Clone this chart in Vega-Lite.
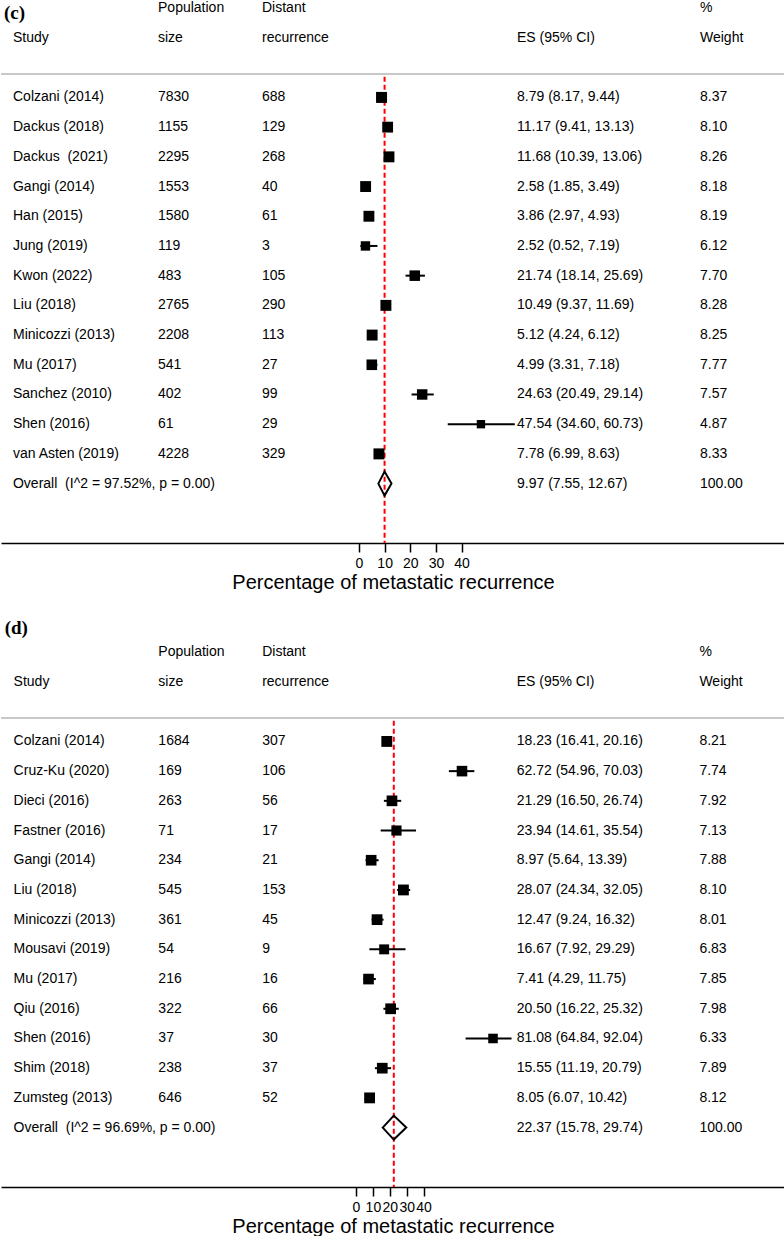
{
  "$schema": "https://vega.github.io/schema/vega-lite/v6.json",
  "background": "white",
  "padding": 0,
  "autosize": {"type": "pad"},
  "spacing": 101,
  "bounds": "flush",
  "config": {
    "view": {"stroke": null},
    "font": "Liberation Sans",
    "axis": {
      "grid": false, "labelOverlap": false, "labelFlush": false, "labelBound": false,
      "tickSize": 9, "tickWidth": 1.5, "tickColor": "#000", "domainColor": "#000", "domainWidth": 1.5,
      "labelFont": "Liberation Sans", "labelFontSize": 14, "labelColor": "#000", "labelPadding": 4,
      "titleFont": "Liberation Sans", "titleFontSize": 20, "titleFontWeight": "normal", "titleColor": "#000", "titlePadding": 2
    }
  },
  "datasets": {
    "header": [
      {"study": "h1", "col": "n", "text": "Population"},
      {"study": "h1", "col": "events", "text": "Distant"},
      {"study": "h1", "col": "weight", "text": "%"},
      {"study": "h2", "col": "study", "text": "Study"},
      {"study": "h2", "col": "n", "text": "size"},
      {"study": "h2", "col": "events", "text": "recurrence"},
      {"study": "h2", "col": "ci", "text": "ES (95% CI)"},
      {"study": "h2", "col": "weight", "text": "Weight"}
    ],
    "c": [
      {"study": "Colzani (2014)", "n": 7830, "events": 688, "es": 8.79, "lo": 8.17, "hi": 9.44, "weight": 8.37, "ci": "8.79 (8.17, 9.44)", "type": "study"},
      {"study": "Dackus (2018)", "n": 1155, "events": 129, "es": 11.17, "lo": 9.41, "hi": 13.13, "weight": 8.10, "ci": "11.17 (9.41, 13.13)", "type": "study"},
      {"study": "Dackus\u00a0 (2021)", "n": 2295, "events": 268, "es": 11.68, "lo": 10.39, "hi": 13.06, "weight": 8.26, "ci": "11.68 (10.39, 13.06)", "type": "study"},
      {"study": "Gangi (2014)", "n": 1553, "events": 40, "es": 2.58, "lo": 1.85, "hi": 3.49, "weight": 8.18, "ci": "2.58 (1.85, 3.49)", "type": "study"},
      {"study": "Han (2015)", "n": 1580, "events": 61, "es": 3.86, "lo": 2.97, "hi": 4.93, "weight": 8.19, "ci": "3.86 (2.97, 4.93)", "type": "study"},
      {"study": "Jung (2019)", "n": 119, "events": 3, "es": 2.52, "lo": 0.52, "hi": 7.19, "weight": 6.12, "ci": "2.52 (0.52, 7.19)", "type": "study"},
      {"study": "Kwon (2022)", "n": 483, "events": 105, "es": 21.74, "lo": 18.14, "hi": 25.69, "weight": 7.70, "ci": "21.74 (18.14, 25.69)", "type": "study"},
      {"study": "Liu (2018)", "n": 2765, "events": 290, "es": 10.49, "lo": 9.37, "hi": 11.69, "weight": 8.28, "ci": "10.49 (9.37, 11.69)", "type": "study"},
      {"study": "Minicozzi (2013)", "n": 2208, "events": 113, "es": 5.12, "lo": 4.24, "hi": 6.12, "weight": 8.25, "ci": "5.12 (4.24, 6.12)", "type": "study"},
      {"study": "Mu (2017)", "n": 541, "events": 27, "es": 4.99, "lo": 3.31, "hi": 7.18, "weight": 7.77, "ci": "4.99 (3.31, 7.18)", "type": "study"},
      {"study": "Sanchez (2010)", "n": 402, "events": 99, "es": 24.63, "lo": 20.49, "hi": 29.14, "weight": 7.57, "ci": "24.63 (20.49, 29.14)", "type": "study"},
      {"study": "Shen (2016)", "n": 61, "events": 29, "es": 47.54, "lo": 34.60, "hi": 60.73, "weight": 4.87, "ci": "47.54 (34.60, 60.73)", "type": "study"},
      {"study": "van Asten (2019)", "n": 4228, "events": 329, "es": 7.78, "lo": 6.99, "hi": 8.63, "weight": 8.33, "ci": "7.78 (6.99, 8.63)", "type": "study"},
      {"study": "Overall\u00a0 (I^2 = 97.52%, p = 0.00)", "es": 9.97, "lo": 7.55, "hi": 12.67, "weight": 100.00, "ci": "9.97 (7.55, 12.67)", "type": "overall"}
    ],
    "d": [
      {"study": "Colzani (2014)", "n": 1684, "events": 307, "es": 18.23, "lo": 16.41, "hi": 20.16, "weight": 8.21, "ci": "18.23 (16.41, 20.16)", "type": "study"},
      {"study": "Cruz-Ku (2020)", "n": 169, "events": 106, "es": 62.72, "lo": 54.96, "hi": 70.03, "weight": 7.74, "ci": "62.72 (54.96, 70.03)", "type": "study"},
      {"study": "Dieci (2016)", "n": 263, "events": 56, "es": 21.29, "lo": 16.50, "hi": 26.74, "weight": 7.92, "ci": "21.29 (16.50, 26.74)", "type": "study"},
      {"study": "Fastner (2016)", "n": 71, "events": 17, "es": 23.94, "lo": 14.61, "hi": 35.54, "weight": 7.13, "ci": "23.94 (14.61, 35.54)", "type": "study"},
      {"study": "Gangi (2014)", "n": 234, "events": 21, "es": 8.97, "lo": 5.64, "hi": 13.39, "weight": 7.88, "ci": "8.97 (5.64, 13.39)", "type": "study"},
      {"study": "Liu (2018)", "n": 545, "events": 153, "es": 28.07, "lo": 24.34, "hi": 32.05, "weight": 8.10, "ci": "28.07 (24.34, 32.05)", "type": "study"},
      {"study": "Minicozzi (2013)", "n": 361, "events": 45, "es": 12.47, "lo": 9.24, "hi": 16.32, "weight": 8.01, "ci": "12.47 (9.24, 16.32)", "type": "study"},
      {"study": "Mousavi (2019)", "n": 54, "events": 9, "es": 16.67, "lo": 7.92, "hi": 29.29, "weight": 6.83, "ci": "16.67 (7.92, 29.29)", "type": "study"},
      {"study": "Mu (2017)", "n": 216, "events": 16, "es": 7.41, "lo": 4.29, "hi": 11.75, "weight": 7.85, "ci": "7.41 (4.29, 11.75)", "type": "study"},
      {"study": "Qiu (2016)", "n": 322, "events": 66, "es": 20.50, "lo": 16.22, "hi": 25.32, "weight": 7.98, "ci": "20.50 (16.22, 25.32)", "type": "study"},
      {"study": "Shen (2016)", "n": 37, "events": 30, "es": 81.08, "lo": 64.84, "hi": 92.04, "weight": 6.33, "ci": "81.08 (64.84, 92.04)", "type": "study"},
      {"study": "Shim (2018)", "n": 238, "events": 37, "es": 15.55, "lo": 11.19, "hi": 20.79, "weight": 7.89, "ci": "15.55 (11.19, 20.79)", "type": "study"},
      {"study": "Zumsteg (2013)", "n": 646, "events": 52, "es": 8.05, "lo": 6.07, "hi": 10.42, "weight": 8.12, "ci": "8.05 (6.07, 10.42)", "type": "study"},
      {"study": "Overall\u00a0 (I^2 = 96.69%, p = 0.00)", "es": 22.37, "lo": 15.78, "hi": 29.74, "weight": 100.00, "ci": "22.37 (15.78, 29.74)", "type": "overall"}
    ]
  },
  "vconcat": [
    {
      "width": 784, "height": 543,
      "encoding": {"y": {"field": "study", "type": "nominal", "axis": null, "scale": {"type": "point", "padding": 0.14, "align": 1, "domain": ["h1", "h2", "_gap", "Colzani (2014)", "Dackus (2018)", "Dackus\u00a0 (2021)", "Gangi (2014)", "Han (2015)", "Jung (2019)", "Kwon (2022)", "Liu (2018)", "Minicozzi (2013)", "Mu (2017)", "Sanchez (2010)", "Shen (2016)", "van Asten (2019)", "Overall\u00a0 (I^2 = 97.52%, p = 0.00)", "_e1", "_e2"]}}},
      "layer": [
        {"data": {"values": [{}]}, "mark": {"type": "rule", "color": "#c8c8c8", "strokeWidth": 2, "yOffset": 6.3},
         "encoding": {"y": {"datum": "_gap", "type": "nominal", "axis": null, "scale": {"type": "point", "padding": 0.14, "align": 1, "domain": ["h1", "h2", "_gap", "Colzani (2014)", "Dackus (2018)", "Dackus\u00a0 (2021)", "Gangi (2014)", "Han (2015)", "Jung (2019)", "Kwon (2022)", "Liu (2018)", "Minicozzi (2013)", "Mu (2017)", "Sanchez (2010)", "Shen (2016)", "van Asten (2019)", "Overall\u00a0 (I^2 = 97.52%, p = 0.00)", "_e1", "_e2"]}}}},
        {"data": {"name": "c"}, "transform": [{"filter": "datum.type === 'overall'"}],
         "mark": {"type": "rule", "color": "#ff0000", "strokeWidth": 2, "strokeDash": [5, 3], "yOffset": 9},
         "encoding": {
           "x": {"field": "es", "type": "quantitative", "scale": {"domain": [-139.57, 166.08], "nice": false, "zero": false}, "axis": {"values": [0, 10, 20, 30, 40], "format": "d", "title": "Percentage of metastatic recurrence"}},
           "y": {"datum": "_gap", "type": "nominal", "axis": null, "scale": {"type": "point", "padding": 0.14, "align": 1, "domain": ["h1", "h2", "_gap", "Colzani (2014)", "Dackus (2018)", "Dackus\u00a0 (2021)", "Gangi (2014)", "Han (2015)", "Jung (2019)", "Kwon (2022)", "Liu (2018)", "Minicozzi (2013)", "Mu (2017)", "Sanchez (2010)", "Shen (2016)", "van Asten (2019)", "Overall\u00a0 (I^2 = 97.52%, p = 0.00)", "_e1", "_e2"]}},
           "y2": {"datum": "_e2"}}},
        {"data": {"name": "c"}, "transform": [{"filter": "datum.type === 'study'"}],
         "mark": {"type": "rule", "color": "#000", "strokeWidth": 2},
         "encoding": {
           "x": {"field": "lo", "type": "quantitative", "scale": {"domain": [-139.57, 166.08], "nice": false, "zero": false}, "axis": {"values": [0, 10, 20, 30, 40], "format": "d", "title": "Percentage of metastatic recurrence"}},
           "x2": {"field": "hi"}}},
        {"data": {"name": "c"}, "transform": [{"filter": "datum.type === 'study'"}],
         "mark": {"type": "square", "filled": true, "color": "#000", "opacity": 1},
         "encoding": {
           "x": {"field": "es", "type": "quantitative", "scale": {"domain": [-139.57, 166.08], "nice": false, "zero": false}, "axis": {"values": [0, 10, 20, 30, 40], "format": "d", "title": "Percentage of metastatic recurrence"}},
           "size": {"field": "weight", "type": "quantitative", "scale": {"domain": [0, 10], "range": [0, 144.6]}, "legend": null}}},
        {"data": {"name": "c"}, "transform": [{"filter": "datum.type === 'overall'"}],
         "mark": {"type": "point", "shape": "M-0.52,0L0,-1L0.575,0L0,1Z", "size": 576, "filled": false, "color": "#000", "strokeWidth": 2, "opacity": 1},
         "encoding": {
           "x": {"field": "es", "type": "quantitative", "scale": {"domain": [-139.57, 166.08], "nice": false, "zero": false}, "axis": {"values": [0, 10, 20, 30, 40], "format": "d", "title": "Percentage of metastatic recurrence"}}}},
        {"data": {"name": "c"},
         "mark": {"type": "text", "align": "left", "baseline": "middle", "font": "Liberation Sans", "fontSize": 14, "color": "#000"},
         "encoding": {"x": {"datum": -134.9, "type": "quantitative", "scale": {"domain": [-139.57, 166.08], "nice": false, "zero": false}, "axis": {"values": [0, 10, 20, 30, 40], "format": "d", "title": "Percentage of metastatic recurrence"}}, "text": {"field": "study", "type": "nominal"}}},
        {"data": {"name": "c"}, "transform": [{"filter": "datum.type === 'study'"}],
         "mark": {"type": "text", "align": "left", "baseline": "middle", "font": "Liberation Sans", "fontSize": 14, "color": "#000"},
         "encoding": {"x": {"datum": -78.36, "type": "quantitative", "scale": {"domain": [-139.57, 166.08], "nice": false, "zero": false}, "axis": {"values": [0, 10, 20, 30, 40], "format": "d", "title": "Percentage of metastatic recurrence"}}, "text": {"field": "n", "type": "quantitative", "format": "d"}}},
        {"data": {"name": "c"}, "transform": [{"filter": "datum.type === 'study'"}],
         "mark": {"type": "text", "align": "left", "baseline": "middle", "font": "Liberation Sans", "fontSize": 14, "color": "#000"},
         "encoding": {"x": {"datum": -37.82, "type": "quantitative", "scale": {"domain": [-139.57, 166.08], "nice": false, "zero": false}, "axis": {"values": [0, 10, 20, 30, 40], "format": "d", "title": "Percentage of metastatic recurrence"}}, "text": {"field": "events", "type": "quantitative", "format": "d"}}},
        {"data": {"name": "c"},
         "mark": {"type": "text", "align": "left", "baseline": "middle", "font": "Liberation Sans", "fontSize": 14, "color": "#000"},
         "encoding": {"x": {"datum": 61.6, "type": "quantitative", "scale": {"domain": [-139.57, 166.08], "nice": false, "zero": false}, "axis": {"values": [0, 10, 20, 30, 40], "format": "d", "title": "Percentage of metastatic recurrence"}}, "text": {"field": "ci", "type": "nominal"}}},
        {"data": {"name": "c"},
         "mark": {"type": "text", "align": "left", "baseline": "middle", "font": "Liberation Sans", "fontSize": 14, "color": "#000"},
         "encoding": {"x": {"datum": 132.94, "type": "quantitative", "scale": {"domain": [-139.57, 166.08], "nice": false, "zero": false}, "axis": {"values": [0, 10, 20, 30, 40], "format": "d", "title": "Percentage of metastatic recurrence"}}, "text": {"field": "weight", "type": "quantitative", "format": ".2f"}}},
        {"data": {"name": "header"}, "transform": [{"filter": "datum.col === 'study'"}],
         "mark": {"type": "text", "align": "left", "baseline": "middle", "font": "Liberation Sans", "fontSize": 14, "color": "#000"},
         "encoding": {"x": {"datum": -134.9, "type": "quantitative", "scale": {"domain": [-139.57, 166.08], "nice": false, "zero": false}, "axis": {"values": [0, 10, 20, 30, 40], "format": "d", "title": "Percentage of metastatic recurrence"}}, "text": {"field": "text", "type": "nominal"}}},
        {"data": {"name": "header"}, "transform": [{"filter": "datum.col === 'n'"}],
         "mark": {"type": "text", "align": "left", "baseline": "middle", "font": "Liberation Sans", "fontSize": 14, "color": "#000"},
         "encoding": {"x": {"datum": -78.36, "type": "quantitative", "scale": {"domain": [-139.57, 166.08], "nice": false, "zero": false}, "axis": {"values": [0, 10, 20, 30, 40], "format": "d", "title": "Percentage of metastatic recurrence"}}, "text": {"field": "text", "type": "nominal"}}},
        {"data": {"name": "header"}, "transform": [{"filter": "datum.col === 'events'"}],
         "mark": {"type": "text", "align": "left", "baseline": "middle", "font": "Liberation Sans", "fontSize": 14, "color": "#000"},
         "encoding": {"x": {"datum": -37.82, "type": "quantitative", "scale": {"domain": [-139.57, 166.08], "nice": false, "zero": false}, "axis": {"values": [0, 10, 20, 30, 40], "format": "d", "title": "Percentage of metastatic recurrence"}}, "text": {"field": "text", "type": "nominal"}}},
        {"data": {"name": "header"}, "transform": [{"filter": "datum.col === 'ci'"}],
         "mark": {"type": "text", "align": "left", "baseline": "middle", "font": "Liberation Sans", "fontSize": 14, "color": "#000"},
         "encoding": {"x": {"datum": 61.6, "type": "quantitative", "scale": {"domain": [-139.57, 166.08], "nice": false, "zero": false}, "axis": {"values": [0, 10, 20, 30, 40], "format": "d", "title": "Percentage of metastatic recurrence"}}, "text": {"field": "text", "type": "nominal"}}},
        {"data": {"name": "header"}, "transform": [{"filter": "datum.col === 'weight'"}],
         "mark": {"type": "text", "align": "left", "baseline": "middle", "font": "Liberation Sans", "fontSize": 14, "color": "#000"},
         "encoding": {"x": {"datum": 132.94, "type": "quantitative", "scale": {"domain": [-139.57, 166.08], "nice": false, "zero": false}, "axis": {"values": [0, 10, 20, 30, 40], "format": "d", "title": "Percentage of metastatic recurrence"}}, "text": {"field": "text", "type": "nominal"}}},
        {"data": {"values": [{"study": "h1", "label": "(c)"}]},
         "mark": {"type": "text", "align": "left", "baseline": "middle", "font": "Liberation Serif", "fontWeight": "bold", "fontSize": 19, "color": "#000", "dy": 5},
         "encoding": {"x": {"datum": -138.4, "type": "quantitative", "scale": {"domain": [-139.57, 166.08], "nice": false, "zero": false}, "axis": {"values": [0, 10, 20, 30, 40], "format": "d", "title": "Percentage of metastatic recurrence"}}, "text": {"field": "label", "type": "nominal"}}}
      ]
    },
    {
      "width": 784, "height": 543,
      "encoding": {"y": {"field": "study", "type": "nominal", "axis": null, "scale": {"type": "point", "padding": 0.14, "align": 1, "domain": ["h1", "h2", "_gap", "Colzani (2014)", "Cruz-Ku (2020)", "Dieci (2016)", "Fastner (2016)", "Gangi (2014)", "Liu (2018)", "Minicozzi (2013)", "Mousavi (2019)", "Mu (2017)", "Qiu (2016)", "Shen (2016)", "Shim (2018)", "Zumsteg (2013)", "Overall\u00a0 (I^2 = 96.69%, p = 0.00)", "_e1", "_e2"]}}},
      "layer": [
        {"data": {"values": [{}]}, "mark": {"type": "rule", "color": "#c8c8c8", "strokeWidth": 2, "yOffset": 6.3},
         "encoding": {"y": {"datum": "_gap", "type": "nominal", "axis": null, "scale": {"type": "point", "padding": 0.14, "align": 1, "domain": ["h1", "h2", "_gap", "Colzani (2014)", "Cruz-Ku (2020)", "Dieci (2016)", "Fastner (2016)", "Gangi (2014)", "Liu (2018)", "Minicozzi (2013)", "Mousavi (2019)", "Mu (2017)", "Qiu (2016)", "Shen (2016)", "Shim (2018)", "Zumsteg (2013)", "Overall\u00a0 (I^2 = 96.69%, p = 0.00)", "_e1", "_e2"]}}}},
        {"data": {"name": "d"}, "transform": [{"filter": "datum.type === 'overall'"}],
         "mark": {"type": "rule", "color": "#ff0000", "strokeWidth": 2, "strokeDash": [5, 3], "yOffset": 9},
         "encoding": {
           "x": {"field": "es", "type": "quantitative", "scale": {"domain": [-210.06, 253.85], "nice": false, "zero": false}, "axis": {"values": [0, 10, 20, 30, 40], "format": "d", "title": "Percentage of metastatic recurrence"}},
           "y": {"datum": "_gap", "type": "nominal", "axis": null, "scale": {"type": "point", "padding": 0.14, "align": 1, "domain": ["h1", "h2", "_gap", "Colzani (2014)", "Cruz-Ku (2020)", "Dieci (2016)", "Fastner (2016)", "Gangi (2014)", "Liu (2018)", "Minicozzi (2013)", "Mousavi (2019)", "Mu (2017)", "Qiu (2016)", "Shen (2016)", "Shim (2018)", "Zumsteg (2013)", "Overall\u00a0 (I^2 = 96.69%, p = 0.00)", "_e1", "_e2"]}},
           "y2": {"datum": "_e2"}}},
        {"data": {"name": "d"}, "transform": [{"filter": "datum.type === 'study'"}],
         "mark": {"type": "rule", "color": "#000", "strokeWidth": 2},
         "encoding": {
           "x": {"field": "lo", "type": "quantitative", "scale": {"domain": [-210.06, 253.85], "nice": false, "zero": false}, "axis": {"values": [0, 10, 20, 30, 40], "format": "d", "title": "Percentage of metastatic recurrence"}},
           "x2": {"field": "hi"}}},
        {"data": {"name": "d"}, "transform": [{"filter": "datum.type === 'study'"}],
         "mark": {"type": "square", "filled": true, "color": "#000", "opacity": 1},
         "encoding": {
           "x": {"field": "es", "type": "quantitative", "scale": {"domain": [-210.06, 253.85], "nice": false, "zero": false}, "axis": {"values": [0, 10, 20, 30, 40], "format": "d", "title": "Percentage of metastatic recurrence"}},
           "size": {"field": "weight", "type": "quantitative", "scale": {"domain": [0, 10], "range": [0, 112]}, "legend": null}}},
        {"data": {"name": "d"}, "transform": [{"filter": "datum.type === 'overall'"}],
         "mark": {"type": "point", "shape": "M-0.925,0L0,-1L1.04,0L0,1Z", "size": 576, "filled": false, "color": "#000", "strokeWidth": 2, "opacity": 1},
         "encoding": {
           "x": {"field": "es", "type": "quantitative", "scale": {"domain": [-210.06, 253.85], "nice": false, "zero": false}, "axis": {"values": [0, 10, 20, 30, 40], "format": "d", "title": "Percentage of metastatic recurrence"}}}},
        {"data": {"name": "d"},
         "mark": {"type": "text", "align": "left", "baseline": "middle", "font": "Liberation Sans", "fontSize": 14, "color": "#000"},
         "encoding": {"x": {"datum": -202.6, "type": "quantitative", "scale": {"domain": [-210.06, 253.85], "nice": false, "zero": false}, "axis": {"values": [0, 10, 20, 30, 40], "format": "d", "title": "Percentage of metastatic recurrence"}}, "text": {"field": "study", "type": "nominal"}}},
        {"data": {"name": "d"}, "transform": [{"filter": "datum.type === 'study'"}],
         "mark": {"type": "text", "align": "left", "baseline": "middle", "font": "Liberation Sans", "fontSize": 14, "color": "#000"},
         "encoding": {"x": {"datum": -116.95, "type": "quantitative", "scale": {"domain": [-210.06, 253.85], "nice": false, "zero": false}, "axis": {"values": [0, 10, 20, 30, 40], "format": "d", "title": "Percentage of metastatic recurrence"}}, "text": {"field": "n", "type": "quantitative", "format": "d"}}},
        {"data": {"name": "d"}, "transform": [{"filter": "datum.type === 'study'"}],
         "mark": {"type": "text", "align": "left", "baseline": "middle", "font": "Liberation Sans", "fontSize": 14, "color": "#000"},
         "encoding": {"x": {"datum": -55.52, "type": "quantitative", "scale": {"domain": [-210.06, 253.85], "nice": false, "zero": false}, "axis": {"values": [0, 10, 20, 30, 40], "format": "d", "title": "Percentage of metastatic recurrence"}}, "text": {"field": "events", "type": "quantitative", "format": "d"}}},
        {"data": {"name": "d"},
         "mark": {"type": "text", "align": "left", "baseline": "middle", "font": "Liberation Sans", "fontSize": 14, "color": "#000"},
         "encoding": {"x": {"datum": 95.1, "type": "quantitative", "scale": {"domain": [-210.06, 253.85], "nice": false, "zero": false}, "axis": {"values": [0, 10, 20, 30, 40], "format": "d", "title": "Percentage of metastatic recurrence"}}, "text": {"field": "ci", "type": "nominal"}}},
        {"data": {"name": "d"},
         "mark": {"type": "text", "align": "left", "baseline": "middle", "font": "Liberation Sans", "fontSize": 14, "color": "#000"},
         "encoding": {"x": {"datum": 203.2, "type": "quantitative", "scale": {"domain": [-210.06, 253.85], "nice": false, "zero": false}, "axis": {"values": [0, 10, 20, 30, 40], "format": "d", "title": "Percentage of metastatic recurrence"}}, "text": {"field": "weight", "type": "quantitative", "format": ".2f"}}},
        {"data": {"name": "header"}, "transform": [{"filter": "datum.col === 'study'"}],
         "mark": {"type": "text", "align": "left", "baseline": "middle", "font": "Liberation Sans", "fontSize": 14, "color": "#000"},
         "encoding": {"x": {"datum": -202.6, "type": "quantitative", "scale": {"domain": [-210.06, 253.85], "nice": false, "zero": false}, "axis": {"values": [0, 10, 20, 30, 40], "format": "d", "title": "Percentage of metastatic recurrence"}}, "text": {"field": "text", "type": "nominal"}}},
        {"data": {"name": "header"}, "transform": [{"filter": "datum.col === 'n'"}],
         "mark": {"type": "text", "align": "left", "baseline": "middle", "font": "Liberation Sans", "fontSize": 14, "color": "#000"},
         "encoding": {"x": {"datum": -116.95, "type": "quantitative", "scale": {"domain": [-210.06, 253.85], "nice": false, "zero": false}, "axis": {"values": [0, 10, 20, 30, 40], "format": "d", "title": "Percentage of metastatic recurrence"}}, "text": {"field": "text", "type": "nominal"}}},
        {"data": {"name": "header"}, "transform": [{"filter": "datum.col === 'events'"}],
         "mark": {"type": "text", "align": "left", "baseline": "middle", "font": "Liberation Sans", "fontSize": 14, "color": "#000"},
         "encoding": {"x": {"datum": -55.52, "type": "quantitative", "scale": {"domain": [-210.06, 253.85], "nice": false, "zero": false}, "axis": {"values": [0, 10, 20, 30, 40], "format": "d", "title": "Percentage of metastatic recurrence"}}, "text": {"field": "text", "type": "nominal"}}},
        {"data": {"name": "header"}, "transform": [{"filter": "datum.col === 'ci'"}],
         "mark": {"type": "text", "align": "left", "baseline": "middle", "font": "Liberation Sans", "fontSize": 14, "color": "#000"},
         "encoding": {"x": {"datum": 95.1, "type": "quantitative", "scale": {"domain": [-210.06, 253.85], "nice": false, "zero": false}, "axis": {"values": [0, 10, 20, 30, 40], "format": "d", "title": "Percentage of metastatic recurrence"}}, "text": {"field": "text", "type": "nominal"}}},
        {"data": {"name": "header"}, "transform": [{"filter": "datum.col === 'weight'"}],
         "mark": {"type": "text", "align": "left", "baseline": "middle", "font": "Liberation Sans", "fontSize": 14, "color": "#000"},
         "encoding": {"x": {"datum": 203.2, "type": "quantitative", "scale": {"domain": [-210.06, 253.85], "nice": false, "zero": false}, "axis": {"values": [0, 10, 20, 30, 40], "format": "d", "title": "Percentage of metastatic recurrence"}}, "text": {"field": "text", "type": "nominal"}}},
        {"data": {"values": [{"study": "h1", "label": "(d)"}]},
         "mark": {"type": "text", "align": "left", "baseline": "middle", "font": "Liberation Serif", "fontWeight": "bold", "fontSize": 19, "color": "#000", "dy": -24.6},
         "encoding": {"x": {"datum": -207.9, "type": "quantitative", "scale": {"domain": [-210.06, 253.85], "nice": false, "zero": false}, "axis": {"values": [0, 10, 20, 30, 40], "format": "d", "title": "Percentage of metastatic recurrence"}}, "text": {"field": "label", "type": "nominal"}}}
      ]
    }
  ]
}
